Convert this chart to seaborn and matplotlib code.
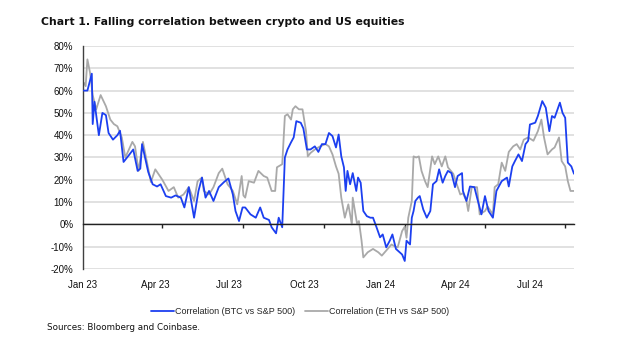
import matplotlib
matplotlib.use("Agg")
import matplotlib.pyplot as plt
from matplotlib.lines import Line2D
from matplotlib.ticker import FuncFormatter
import pandas as pd
import seaborn as sns

# Rolling correlation of BTC with the S&P 500 (%)
btc_dates = [
    "2023-01-02", "2023-01-06", "2023-01-11", "2023-01-12", "2023-01-14", "2023-01-19",
    "2023-01-23", "2023-01-27", "2023-01-30", "2023-02-04", "2023-02-09", "2023-02-12",
    "2023-02-16", "2023-02-22", "2023-02-27", "2023-03-04", "2023-03-07", "2023-03-09",
    "2023-03-16", "2023-03-21", "2023-03-26", "2023-03-30", "2023-04-05", "2023-04-11",
    "2023-04-16", "2023-04-22", "2023-04-26", "2023-05-01", "2023-05-07", "2023-05-12",
    "2023-05-16", "2023-05-20", "2023-05-24", "2023-05-29", "2023-06-04", "2023-06-10",
    "2023-06-15", "2023-06-20", "2023-06-23", "2023-06-27", "2023-07-01", "2023-07-04",
    "2023-07-10", "2023-07-16", "2023-07-21", "2023-07-25", "2023-07-31", "2023-08-03",
    "2023-08-08", "2023-08-11", "2023-08-15", "2023-08-18", "2023-08-21", "2023-08-25",
    "2023-08-28", "2023-08-31", "2023-09-05", "2023-09-08", "2023-09-12", "2023-09-16",
    "2023-09-21", "2023-09-25", "2023-09-29", "2023-10-03", "2023-10-07", "2023-10-11",
    "2023-10-15", "2023-10-18", "2023-10-21", "2023-10-24", "2023-10-26", "2023-10-28",
    "2023-10-31", "2023-11-03", "2023-11-07", "2023-11-09", "2023-11-12", "2023-11-15",
    "2023-11-19", "2023-11-23", "2023-11-26", "2023-11-30", "2023-12-04", "2023-12-07",
    "2023-12-11", "2023-12-15", "2023-12-18", "2023-12-22", "2023-12-29", "2024-01-01",
    "2024-01-03", "2024-01-07", "2024-01-09", "2024-01-11", "2024-01-13", "2024-01-16",
    "2024-01-18", "2024-01-22", "2024-01-26", "2024-01-30", "2024-02-02", "2024-02-06",
    "2024-02-09", "2024-02-13", "2024-02-16", "2024-02-19", "2024-02-23", "2024-02-27",
    "2024-03-01", "2024-03-06", "2024-03-07", "2024-03-11", "2024-03-15", "2024-03-20",
    "2024-03-23", "2024-03-28", "2024-04-01", "2024-04-05", "2024-04-10", "2024-04-14",
    "2024-04-20", "2024-04-26", "2024-04-28", "2024-05-02", "2024-05-05", "2024-05-09",
    "2024-05-13", "2024-05-17", "2024-05-20", "2024-05-22", "2024-05-28", "2024-05-31",
    "2024-06-05", "2024-06-09", "2024-06-13", "2024-06-16", "2024-06-19", "2024-06-25",
    "2024-06-28", "2024-07-01", "2024-07-04", "2024-07-08", "2024-07-11",
]
btc_corr = [
    60, 60, 67.6, 45, 55, 40,
    50, 49, 41, 38, 40, 42,
    28, 31, 33.6, 24, 25, 36,
    23.5, 18, 17, 18, 12.7, 12,
    13, 12, 7.6, 16.7, 3, 15,
    21, 12, 15, 10.5, 16.7, 19,
    20.6, 13.4, 6, 1.5, 7.6, 7.6,
    4.5, 3, 7.6, 3, 2, -1.3,
    -4, 3, -1.3, 30, 33.6, 36.8,
    39, 46.3, 45.6, 43, 33.6, 33.6,
    35, 32.5, 36, 36, 41, 39.6,
    34.5, 40.3, 30.5, 25.6, 15, 24,
    18, 23, 15, 21, 18.7, 6,
    3.7, 3, 3, -1.3, -5.8, -4.5,
    -10.3, -7.3, -4.5, -11, -13.5, -16.4,
    -7.3, -9, 3, 6, 10.5, 12,
    12.7, 6.7, 3, 6, 18, 19.4,
    24.7, 18.7, 21.7, 24, 23, 16.7,
    21.7, 23, 15, 10.5, 17, 16.7,
    12, 4.5, 12.7, 6, 3, 15,
    19.4, 21, 17, 26, 28.4, 31.4,
    28.4, 36, 37.5, 44.8, 45.6, 48.6,
    55.3, 52.3, 41.8, 48.6, 47.8, 54.6,
    50, 47.8, 27.7, 26, 22.7,
]

# Rolling correlation of ETH with the S&P 500 (%)
eth_dates = [
    "2023-01-02", "2023-01-04", "2023-01-06", "2023-01-09", "2023-01-12", "2023-01-16",
    "2023-01-21", "2023-01-27", "2023-02-01", "2023-02-05", "2023-02-09", "2023-02-14",
    "2023-02-18", "2023-02-26", "2023-03-01", "2023-03-05", "2023-03-10", "2023-03-15",
    "2023-03-19", "2023-03-24", "2023-04-01", "2023-04-08", "2023-04-14", "2023-04-19",
    "2023-04-25", "2023-05-01", "2023-05-07", "2023-05-11", "2023-05-16", "2023-05-18",
    "2023-05-24", "2023-05-29", "2023-06-04", "2023-06-08", "2023-06-14", "2023-06-20",
    "2023-06-25", "2023-06-30", "2023-07-02", "2023-07-04", "2023-07-08", "2023-07-14",
    "2023-07-19", "2023-07-25", "2023-07-29", "2023-08-03", "2023-08-07", "2023-08-09",
    "2023-08-15", "2023-08-18", "2023-08-21", "2023-08-25", "2023-08-27", "2023-08-30",
    "2023-09-03", "2023-09-07", "2023-09-11", "2023-09-13", "2023-09-16", "2023-09-21",
    "2023-09-27", "2023-10-03", "2023-10-07", "2023-10-11", "2023-10-15", "2023-10-18",
    "2023-10-21", "2023-10-25", "2023-10-29", "2023-11-02", "2023-11-03", "2023-11-08",
    "2023-11-10", "2023-11-13", "2023-11-15", "2023-11-20", "2023-11-26", "2023-12-02",
    "2023-12-06", "2023-12-11", "2023-12-17", "2023-12-20", "2023-12-24", "2023-12-29",
    "2024-01-01", "2024-01-03", "2024-01-05", "2024-01-09", "2024-01-11", "2024-01-14",
    "2024-01-17", "2024-01-20", "2024-01-24", "2024-01-27", "2024-02-01", "2024-02-04",
    "2024-02-08", "2024-02-12", "2024-02-16", "2024-02-19", "2024-02-25", "2024-02-29",
    "2024-03-04", "2024-03-07", "2024-03-11", "2024-03-13", "2024-03-17", "2024-03-23",
    "2024-03-26", "2024-04-01", "2024-04-04", "2024-04-10", "2024-04-12", "2024-04-16",
    "2024-04-20", "2024-04-24", "2024-04-28", "2024-05-03", "2024-05-07", "2024-05-11",
    "2024-05-15", "2024-05-20", "2024-05-26", "2024-05-31", "2024-06-04", "2024-06-07",
    "2024-06-11", "2024-06-16", "2024-06-19", "2024-06-24", "2024-06-27", "2024-07-01",
    "2024-07-04", "2024-07-07", "2024-07-11",
]
eth_corr = [
    63.5, 62, 74, 68, 58, 51.6,
    58, 53, 47, 45, 44, 39,
    30, 37, 35, 24, 37, 27,
    19, 24.7, 20, 15, 16.7, 12,
    13.4, 16.7, 10.5, 19.4, 21, 15,
    13.4, 16.7, 23, 25, 18, 15,
    9, 21.7, 13, 12, 19.4, 18.7,
    24, 21.7, 21, 15, 15, 25.6,
    27, 48.6, 49.4, 47, 51.6, 53,
    51.6, 51.6, 41.8, 30.5, 32, 33.6,
    35, 36, 35, 31.4, 26, 22.7,
    12, 3, 9, 0, 12, 0,
    1.5, -7.3, -14.8, -12.5, -11, -12.5,
    -14, -11.7, -9, -9.7, -10.3, -3,
    -1, -6, 3, 10.5, 30.5, 30,
    30.5, 24, 19.4, 16.7, 30.5, 27,
    30.5, 26, 30.5, 25.6, 22.7, 18,
    13.4, 14, 10.5, 6, 16.7, 16.7,
    4.5, 6, 8, 4.5, 16.7, 18,
    27.7, 24, 32.5, 35, 36, 33.6,
    38, 39, 37.5, 41.8, 47, 39,
    31.4, 33.6, 34.5, 39, 28.4, 26,
    19.4, 15, 15,
]

series_labels = ["Correlation (BTC vs S&P 500)", "Correlation (ETH vs S&P 500)"]
series_colors = ["#1c3ff0", "#a9a9a9"]

x_start, x_end = "2023-01-02", "2024-07-11"
quarter_ticks = ["2023-04-01", "2023-07-01", "2023-10-01", "2024-01-01", "2024-04-01", "2024-07-01"]
quarter_labels = ["Jan 23", "Apr 23", "Jul 23", "Oct 23", "Jan 24", "Apr 24", "Jul 24"]
quarter_label_dates = ["2023-01-01", "2023-03-24", "2023-06-16", "2023-09-09",
                       "2023-12-04", "2024-02-27", "2024-05-22"]
y_ticks = list(range(-20, 81, 10))

btc = pd.DataFrame({"date": pd.to_datetime(btc_dates), "corr": btc_corr})
eth = pd.DataFrame({"date": pd.to_datetime(eth_dates), "corr": eth_corr})

sns.set_theme(style="white")
plt.rcParams["font.family"] = ["Liberation Sans", "DejaVu Sans"]

fig = plt.figure(figsize=(6.2, 3.45), dpi=100)
ax = fig.add_axes([83 / 620, 1 - 269 / 345, (574 - 83) / 620, (269 - 46) / 345])

# light horizontal gridlines behind the series
for yv in y_ticks:
    ax.axhline(yv, color="#d9d9d9", lw=1.1, zorder=0)

sns.lineplot(data=eth, x="date", y="corr", ax=ax, color=series_colors[1], lw=1.3, zorder=2)
sns.lineplot(data=btc, x="date", y="corr", ax=ax, color=series_colors[0], lw=1.3, zorder=3)

ax.set_xlim(pd.Timestamp(x_start), pd.Timestamp(x_end))
ax.set_ylim(-20, 80)
ax.set_xlabel("")
ax.set_ylabel("")

ax.set_yticks(y_ticks)
ax.yaxis.set_major_formatter(FuncFormatter(lambda v, _: f"{v:.0f}%"))
ax.tick_params(axis="y", length=0, pad=7, labelsize=7, labelcolor="#111111")

# x axis sits on the zero line; quarter ticks hang below it
for side in ("top", "right"):
    ax.spines[side].set_visible(False)
ax.spines["left"].set_color("#404040")
ax.spines["left"].set_linewidth(1.0)
ax.spines["bottom"].set_position(("data", 0))
ax.spines["bottom"].set_color("#222222")
ax.spines["bottom"].set_linewidth(1.0)
ax.spines["bottom"].set_zorder(4)

ax.set_xticks(pd.to_datetime(quarter_ticks))
ax.set_xticklabels([])
ax.tick_params(axis="x", which="major", direction="out", length=3, width=1,
               color="#222222", bottom=True)
ax.set_xticks(pd.to_datetime(quarter_label_dates), minor=True)
ax.set_xticklabels(quarter_labels, minor=True)
ax.tick_params(axis="x", which="minor", length=0, pad=40, labelsize=7, labelcolor="#111111")

fig.text(41 / 620, 1 - 22 / 345, "Chart 1. Falling correlation between crypto and US equities",
         fontsize=7.8, fontweight="bold", family="DejaVu Sans", va="center", ha="left",
         color="#111111")

handles = [Line2D([], [], color=c, lw=1.3) for c in series_colors]
fig.legend(handles, series_labels, loc="center", bbox_to_anchor=(300 / 620, 1 - 312 / 345),
           ncol=2, frameon=False, fontsize=6.5, handlelength=2.6, handletextpad=0.1,
           columnspacing=1.0)

fig.text(47 / 620, 1 - 327 / 345, "Sources: Bloomberg and Coinbase.", fontsize=6.3,
         family="DejaVu Sans", va="center", ha="left", color="#111111")

fig.savefig("out.png", dpi=100)
